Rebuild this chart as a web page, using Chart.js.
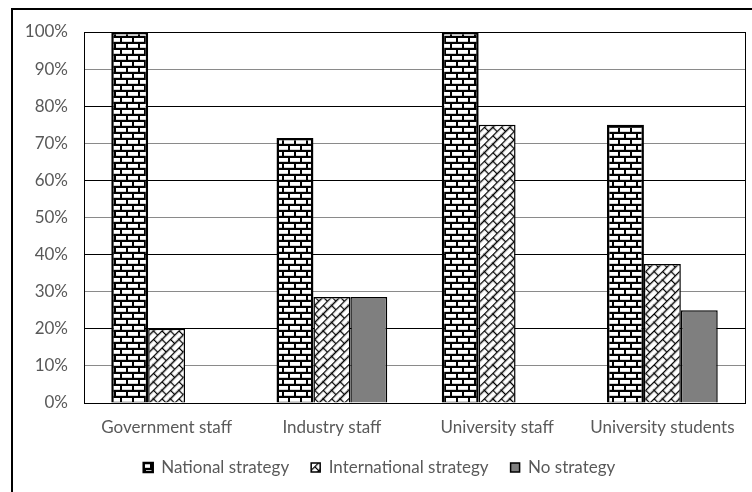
<!DOCTYPE html>
<html>
<head>
<meta charset="utf-8">
<script src="https://cdn.jsdelivr.net/npm/chart.js@4.4.1/dist/chart.umd.min.js"></script>
<style>
  html, body { margin: 0; padding: 0; background: #fff; }
  #wrap { position: relative; width: 752px; height: 492px; overflow: hidden; }
  #frame { position: absolute; left: 11px; top: 8px; width: 800px; height: 600px;
           border-top: 2px solid #000; border-left: 2px solid #000; }
  #chart { position: absolute; left: 0; top: 0; }
</style>
</head>
<body>
<div id="wrap">
  <div id="frame"></div>
  <canvas id="chart" width="752" height="492"></canvas>
</div>
<script>
'use strict';

const CATEGORIES    = ['Government staff', 'Industry staff', 'University staff', 'University students'];
const NATIONAL      = [100, 71.4, 100, 75];
const INTERNATIONAL = [20, 28.6, 75, 37.5];
const NO_STRATEGY   = [0, 28.6, 0, 25];
const Y_TICKS       = [0, 10, 20, 30, 40, 50, 60, 70, 80, 90, 100];

const TXT  = '#595959';
const FONT = { family: 'Lato, "Open Sans", sans-serif', size: 17 };

/* ── 塗りパターン ─────────────────────── */
function brickPattern() {
  const c = document.createElement('canvas');
  c.width = 12; c.height = 12;
  const g = c.getContext('2d');
  g.fillStyle = '#fff';
  g.fillRect(0, 0, 12, 12);
  g.fillStyle = '#d0d0d0';
  g.fillRect(0, 5, 12, 1);
  g.fillRect(0, 11, 12, 1);
  g.fillStyle = '#000';
  g.fillRect(0, 0, 12, 2);
  g.fillRect(0, 6, 12, 2);
  g.fillRect(0, 2, 2, 4);
  g.fillRect(6, 8, 2, 4);
  return g.createPattern(c, 'repeat');
}

function weavePattern() {
  const c = document.createElement('canvas');
  c.width = 12; c.height = 12;
  const g = c.getContext('2d');
  g.fillStyle = '#fff';
  g.fillRect(0, 0, 12, 12);
  g.strokeStyle = '#000';
  g.lineWidth = 1.3;
  g.lineCap = 'round';
  g.beginPath();
  g.moveTo(0, 0.5);  g.lineTo(12, 0.5);
  g.moveTo(0, 6.5);  g.lineTo(12, 6.5);
  g.moveTo(0.5, 0);  g.lineTo(0.5, 6);
  g.moveTo(6.5, 6);  g.lineTo(6.5, 12);
  g.stroke();
  const p = g.createPattern(c, 'repeat');
  p.setTransform(new DOMMatrix().rotateSelf(0, 0, -45));
  return p;
}

const plotBorder = {
  id: 'plotBorder',
  afterDraw(chart) {
    const { ctx, chartArea: a } = chart;
    ctx.save();
    ctx.strokeStyle = '#000';
    ctx.lineWidth = 1;
    ctx.beginPath();
    ctx.moveTo(Math.round(a.right) + 0.5, a.top);
    ctx.lineTo(Math.round(a.right) + 0.5, a.bottom);
    ctx.stroke();
    ctx.restore();
  }
};

new Chart(document.getElementById('chart'), {
  type: 'bar',
  data: {
    labels: CATEGORIES,
    datasets: [
      { label: 'National strategy', data: NATIONAL, backgroundColor: brickPattern(),
        borderColor: '#000', borderWidth: 2.5 },
      { label: 'International strategy', data: INTERNATIONAL, backgroundColor: weavePattern(),
        borderColor: '#000', borderWidth: 1.5 },
      { label: 'No strategy', data: NO_STRATEGY, backgroundColor: '#7f7f7f',
        borderColor: '#000', borderWidth: 1.5 },
    ],
  },
  options: {
    responsive: false,
    animation: false,
    layout: { padding: { left: 14, right: 7, top: 32, bottom: 6 } },
    datasets: { bar: { categoryPercentage: 0.67, barPercentage: 1.0 } },
    scales: {
      y: {
        min: 0, max: 100,
        afterBuildTicks: s => { s.ticks = Y_TICKS.map(v => ({ value: v })); },
        afterFit: s => { s.width = 70; },
        ticks: { color: TXT, font: FONT, padding: 16, callback: v => v + '%' },
        grid: {
          drawTicks: false,
          lineWidth: 1,
          color: c => (c.tick && c.tick.value % 20 === 0) ? '#000' : '#8a8a8a',
        },
        border: { display: true, color: '#000', width: 1 },
      },
      x: {
        afterFit: s => { s.height = 34; },
        ticks: { color: TXT, font: FONT, padding: 6 },
        grid: { display: false },
        border: { display: true, color: '#000', width: 1 },
      },
    },
    plugins: {
      legend: {
        position: 'bottom',
        labels: { color: TXT, font: FONT, boxWidth: 9, boxHeight: 9, padding: 22 },
      },
      tooltip: { enabled: false },
    },
  },
  plugins: [plotBorder],
});
</script>
</body>
</html>
